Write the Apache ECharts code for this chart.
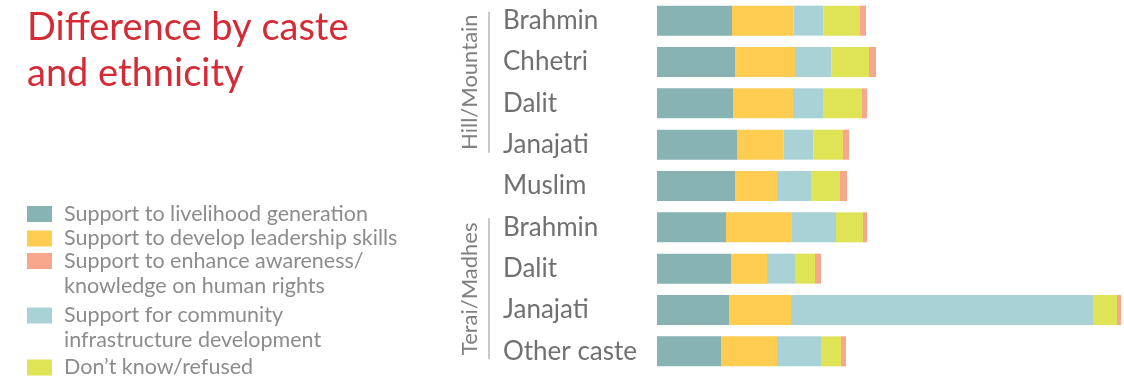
<!DOCTYPE html>
<html>
<head>
<meta charset="utf-8">
<script src="https://cdn.jsdelivr.net/npm/echarts@6/dist/echarts.min.js"></script>
<style>
  html, body { margin: 0; padding: 0; background: #ffffff; }
  #chart { width: 1124px; height: 379px; }
</style>
</head>
<body>
<div id="chart"></div>
<script>
// Rows, top to bottom
const castes = ['Brahmin', 'Chhetri', 'Dalit', 'Janajati', 'Muslim', 'Brahmin', 'Dalit', 'Janajati', 'Other caste'];
// Region brackets: first and last row index of each group
const regionNames = ['Hill/Mountain', 'Terai/Madhes'];
const regionFirstRow = [0, 5];
const regionLastRow = [3, 8];

// Stacked segments, in drawing order (left to right)
const livelihood     = [37.5, 39.0, 38.0, 40.3, 39.0, 34.5, 37.0, 36.0, 32.0];
const leadership     = [30.8, 30.0, 30.0, 23.0, 21.0, 33.0, 18.0, 31.0, 28.0];
const infrastructure = [15.0, 18.3, 15.0, 15.0, 17.0, 22.0, 14.0, 151.0, 22.0];
const dontKnow       = [18.0, 18.7, 19.5, 14.7, 14.5, 13.5, 10.0, 12.0, 10.0];
const awareness      = [3.2, 3.5, 2.5, 3.0, 3.5, 2.0, 3.0, 2.0, 2.5];

const names = {
  livelihood: 'Support to livelihood generation',
  leadership: 'Support to develop leadership skills',
  awareness: 'Support to enhance awareness/\nknowledge on human rights',
  infrastructure: 'Support for community\ninfrastructure development',
  dontKnow: 'Don\u2019t know/refused'
};
const colors = {
  livelihood: '#88b3b3',
  leadership: '#fecc50',
  awareness: '#f8a68c',
  infrastructure: '#a9d2d7',
  dontKnow: '#dfe356'
};

const stackOrder = [
  ['livelihood', livelihood],
  ['leadership', leadership],
  ['infrastructure', infrastructure],
  ['dontKnow', dontKnow],
  ['awareness', awareness]
];

// Legend entries, top to bottom, with the vertical centre of each swatch
const legendOrder = ['livelihood', 'leadership', 'awareness', 'infrastructure', 'dontKnow'];
const legendCentres = [212, 236.5, 261, 315.5, 365.5];

const FONT = 'Lato, "Noto Sans", sans-serif';
const LEGEND_LINE = 25;

const chart = echarts.init(document.getElementById('chart'), null, { renderer: 'canvas' });

// One legend per entry so wrapped labels keep their swatch beside the first line.
// Two-line entries use a tall item box whose swatch sits in its upper half.
const legends = legendOrder.map((key, i) => {
  const lines = names[key].split('\n').length;
  const boxH = lines > 1 ? LEGEND_LINE * lines : 16;
  const top = lines > 1 ? legendCentres[i] - LEGEND_LINE / 2 : legendCentres[i] - 10.5;
  const sq0 = LEGEND_LINE / 2 - 8;
  const icon = lines > 1
    ? 'path://M0,0L0,0M25,' + boxH + 'L25,' + boxH +
      'M0,' + sq0 + 'L25,' + sq0 + 'L25,' + (sq0 + 16) + 'L0,' + (sq0 + 16) + 'Z'
    : 'rect';
  return {
    orient: 'vertical',
    left: 27,
    top: top,
    padding: 0,
    itemWidth: 25,
    itemHeight: boxH,
    selectedMode: false,
    textStyle: {
      fontFamily: FONT, fontSize: 21.5, color: '#8c8c8c',
      lineHeight: LEGEND_LINE, padding: [0, 0, 0, 7]
    },
    data: [{ name: names[key], icon: icon }]
  };
});

chart.setOption({
  animation: false,
  backgroundColor: '#ffffff',
  title: {
    text: 'Difference by caste\nand ethnicity',
    left: 27,
    top: 5,
    padding: 0,
    textStyle: { fontFamily: FONT, fontSize: 38, fontWeight: 'normal', color: '#d42b36', lineHeight: 46 }
  },
  legend: legends,
  grid: { left: 657, top: 0, width: 464, height: 372, containLabel: false },
  xAxis: {
    type: 'value', min: 0, max: 232,
    show: false
  },
  yAxis: {
    type: 'category',
    inverse: true,
    data: castes,
    axisLine: { show: false },
    axisTick: { show: false },
    splitLine: { show: false },
    axisLabel: {
      align: 'left',
      margin: 154,
      fontFamily: FONT,
      fontSize: 26,
      color: '#707070'
    }
  },
  series: stackOrder.map(([key, values]) => ({
    name: names[key],
    type: 'bar',
    stack: 'total',
    barWidth: 30,
    data: values,
    itemStyle: { color: colors[key] },
    emphasis: { disabled: true }
  }))
});

// Region brackets placed from the category axis positions
const graphics = [];
regionNames.forEach((label, g) => {
  const y0 = chart.convertToPixel({ yAxisIndex: 0 }, regionFirstRow[g]) - 9;
  const y1 = chart.convertToPixel({ yAxisIndex: 0 }, regionLastRow[g]) + 8;
  graphics.push({
    type: 'line',
    shape: { x1: 489, y1: y0, x2: 489, y2: y1 },
    style: { stroke: '#c8c8c8', lineWidth: 2 }
  });
  graphics.push({
    type: 'text',
    x: 470,
    y: (y0 + y1) / 2,
    rotation: Math.PI / 2,
    style: {
      text: label,
      fontFamily: FONT,
      fontSize: 22,
      fill: '#808080',
      align: 'center',
      verticalAlign: 'middle'
    }
  });
});
chart.setOption({ graphic: graphics });
</script>
</body>
</html>
